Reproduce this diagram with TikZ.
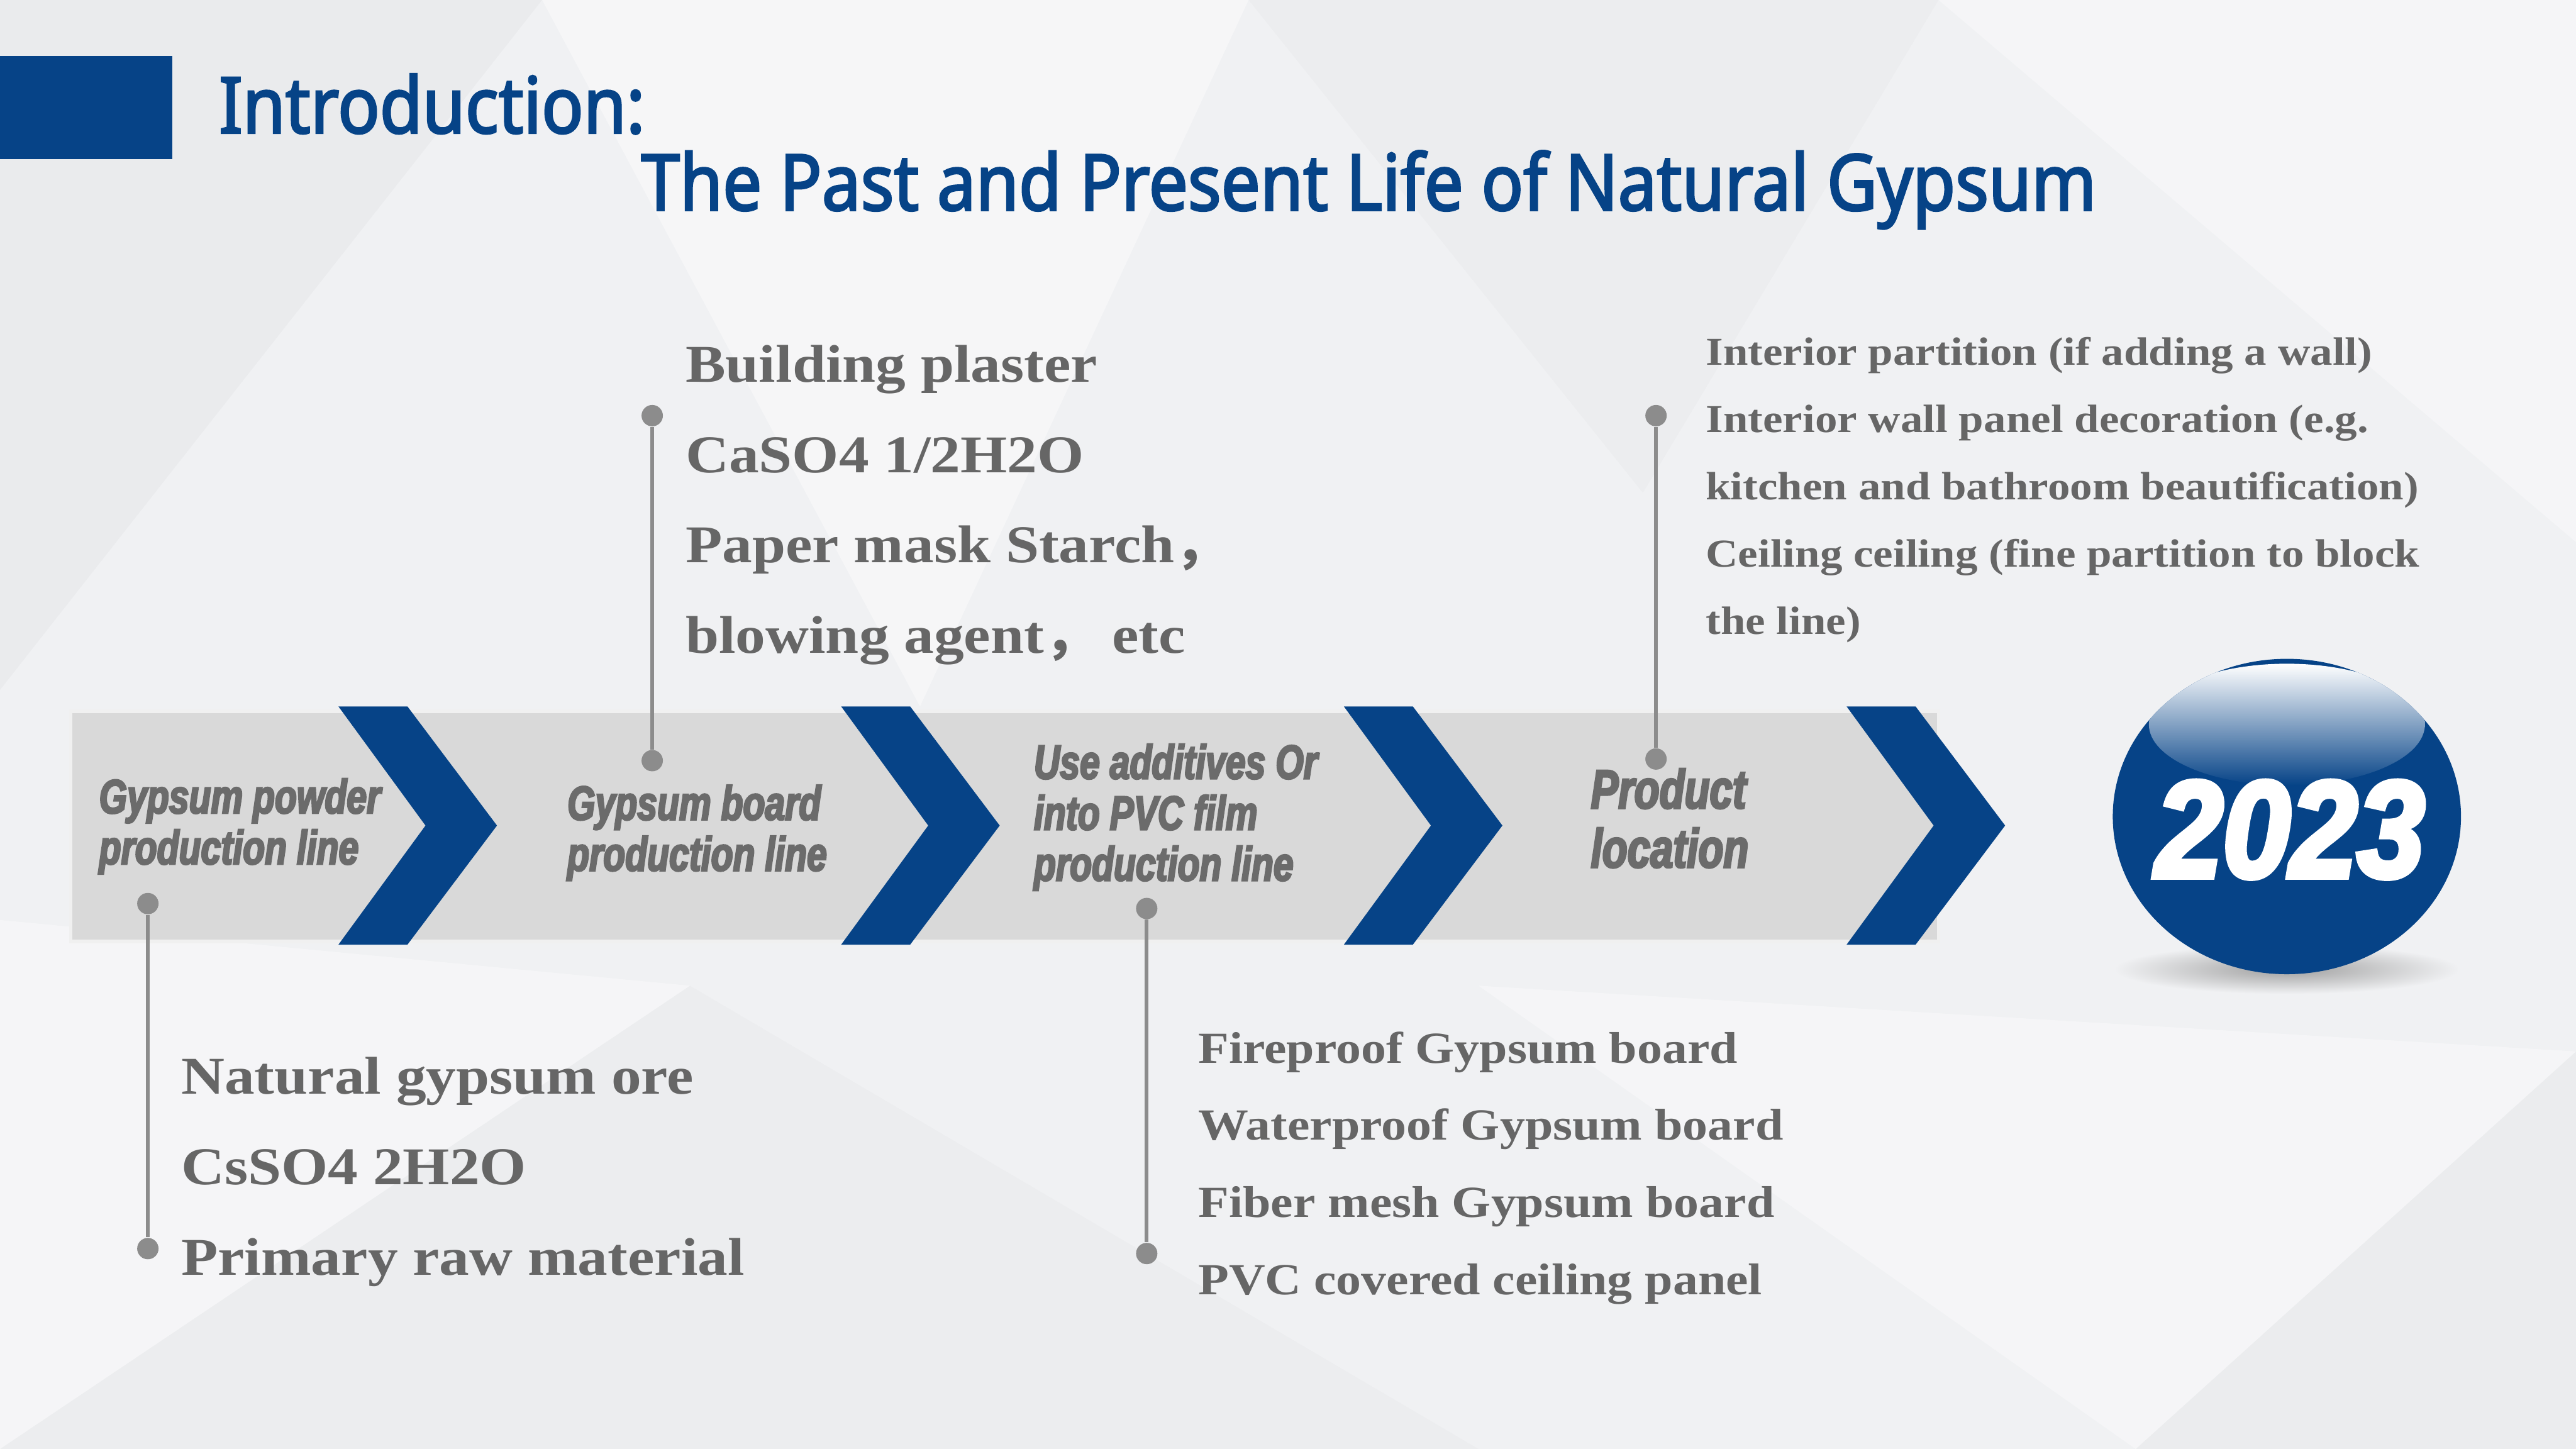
\documentclass[tikz,border=0pt]{standalone}
\usepackage{fontspec}
\usepackage{tikz}
\usetikzlibrary{positioning,calc,shapes.geometric}
\setmainfont{Liberation Serif}
\newfontfamily\titlefont[FakeStretch=0.89, AutoFakeBold=2.5]{Noto Sans}
\newfontfamily\chevfont[FakeStretch=0.75, BoldItalicFeatures={FakeBold=3.5}]{Liberation Sans}
\newfontfamily\yearfont[FakeStretch=0.88, BoldItalicFeatures={FakeBold=4}]{Liberation Sans}
\newfontfamily\notefont[FakeStretch=1.13]{Liberation Serif}
\newfontfamily\cjk{Noto Sans CJK SC}
\definecolor{gypblue}{RGB}{6,67,135}
\definecolor{notegray}{RGB}{102,102,102}
\definecolor{labgray}{RGB}{107,107,107}
\definecolor{pingray}{RGB}{140,140,140}
\definecolor{bandgray}{RGB}{217,217,217}
\definecolor{bggray}{RGB}{240,241,243}

\begin{document}
\begin{tikzpicture}[x=0.02cm,y=-0.02cm,
  ttl/.style={anchor=base west, inner sep=0, text=gypblue,
              font=\titlefont\bfseries\fontsize{27}{32}\selectfont},
  stage/.style={anchor=base west, inner sep=0, text=labgray,
                font=\chevfont\bfseries\itshape\fontsize{16.6}{18}\selectfont},
  stagebig/.style={stage, font=\chevfont\bfseries\itshape\fontsize{19}{21}\selectfont},
  note/.style={anchor=base west, inner sep=0, text=notegray,
               font=\notefont\bfseries\fontsize{18.4}{22}\selectfont},
  notemid/.style={note, font=\notefont\bfseries\fontsize{15.4}{18}\selectfont},
  notesmall/.style={note, font=\notefont\bfseries\fontsize{13.7}{16}\selectfont},
  pin/.style={circle, fill=pingray, inner sep=0, minimum size=0.26cm},
  stem/.style={pingray, line width=1.3pt},
  ball/.style={ellipse, fill=gypblue, inner sep=0, minimum width=4.24cm,
               minimum height=3.84cm}]
\useasboundingbox (0,0) rectangle (1568,882);
% ---- background with faint facets ----
\fill[bggray] (0,0) rectangle (1568,882);
\fill[black, opacity=.025] (0,0) -- (330,0) -- (0,420) -- cycle;
\fill[white, opacity=.4] (330,0) -- (760,0) -- (560,430) -- cycle;
\fill[black, opacity=.015] (760,0) -- (1180,0) -- (1000,300) -- cycle;
\fill[white, opacity=.35] (1180,0) -- (1568,0) -- (1568,330) -- cycle;
\fill[white, opacity=.35] (0,560) -- (420,600) -- (0,882) -- cycle;
\fill[black, opacity=.015] (420,600) -- (900,882) -- (0,882) -- cycle;
\fill[white, opacity=.35] (900,600) -- (1568,640) -- (1300,882) -- cycle;
\fill[black, opacity=.02] (1300,882) -- (1568,640) -- (1568,882) -- cycle;
% ---- heading ----
\fill[gypblue] (0,34) rectangle (105,97);
\node[ttl] (intro) at (133,81) {Introduction:};
\node[ttl] (title) at (390,128) {The Past and Present Life of Natural Gypsum};
% ---- band and chevrons ----
\filldraw[fill=bandgray, draw=gray!12, line width=1.2pt] (43,433) rectangle (1180,573);
\foreach \k in {0,...,3}
  \fill[gypblue] (206+306*\k,430) -- ++(42,0) -- ++(54.5,72.5) -- ++(-54.5,72.5)
    -- ++(-42,0) -- ++(53,-72.5) -- cycle;
% ---- stage labels ----
\foreach \t [count=\i] in {Gypsum powder, production line}
  \node[stage] (sa-\i) at (60,464+31*\i) {\t};
\foreach \t [count=\i] in {Gypsum board, production line}
  \node[stage] (sb-\i) at (345,468+31*\i) {\t};
\foreach \t [count=\i] in {Use additives Or, into PVC film, production line}
  \node[stage] (sc-\i) at (629,443+31*\i) {\t};
\foreach \t [count=\i] in {Product, location}
  \node[stagebig] (sd-\i) at (968,456+36*\i) {\t};
% ---- pins ----
\node[pin] (p1a) at (90,550) {};
\node[pin] (p1b) at (90,760) {};
\node[pin] (p2a) at (397,253) {};
\node[pin] (p2b) at (397,463) {};
\node[pin] (p3a) at (698,553) {};
\node[pin] (p3b) at (698,763) {};
\node[pin] (p4a) at (1008,253) {};
\node[pin] (p4b) at (1008,462) {};
\draw[stem] (p1a) -- (p1b);
\draw[stem] (p2a) -- (p2b);
\draw[stem] (p3a) -- (p3b);
\draw[stem] (p4a) -- (p4b);
% ---- notes ----
\foreach \t [count=\i] in {Natural gypsum ore, CsSO4 2H2O, Primary raw material}
  \node[note] (na-\i) at (110,611+55*\i) {\t};
\foreach \t [count=\i] in {Building plaster, CaSO4 1/2H2O,
    {Paper mask Starch{\cjk ，}}, {blowing agent{\cjk ，} etc}}
  \node[note] (nb-\i) at (417,177.5+55*\i) {\t};
\foreach \t [count=\i] in {Fireproof Gypsum board, Waterproof Gypsum board,
    Fiber mesh Gypsum board, PVC covered ceiling panel}
  \node[notemid] (nc-\i) at (729,600+47*\i) {\t};
\foreach \t [count=\i] in {Interior partition (if adding a wall),
    Interior wall panel decoration (e.g., kitchen and bathroom beautification),
    Ceiling ceiling (fine partition to block, the line)}
  \node[notesmall] (nd-\i) at (1038,181.2+41*\i) {\t};
% ---- 2023 ball ----
\shade[inner color=gray!75, outer color=bggray] (1392,590) ellipse [x radius=105, y radius=15];
\node[ball] (ball) at (1392,497) {};
\begin{scope}
  \clip (1392,497) ellipse [x radius=106, y radius=96];
  \shade[top color=white, middle color=gypblue!72!white, bottom color=gypblue]
    (1392,441) ellipse [x radius=84, y radius=37];
\end{scope}
\node[inner sep=0, text=white, font=\yearfont\bfseries\itshape\fontsize{47.6}{50}\selectfont]
  (year) at (1394,505) {2023};
\end{tikzpicture}
\end{document}
